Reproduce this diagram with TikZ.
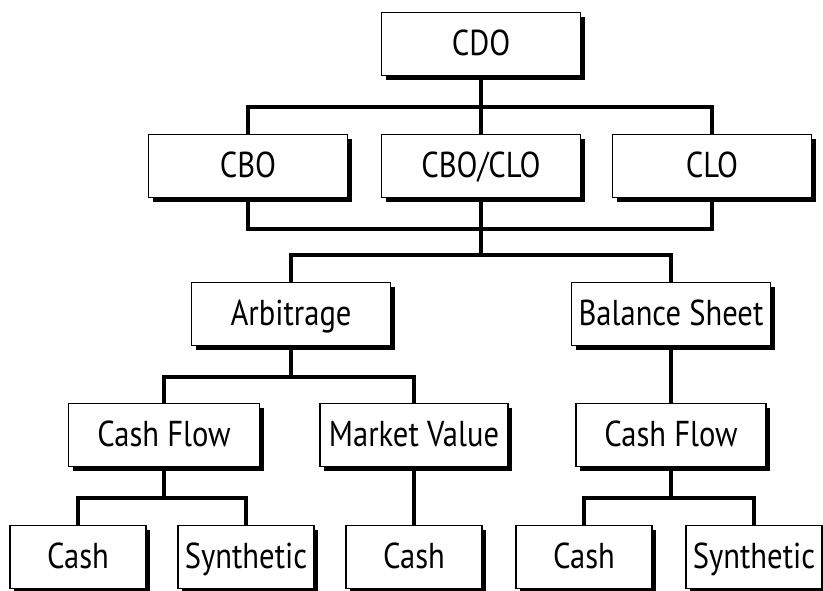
\documentclass[tikz,border=0pt]{standalone}
\usepackage{fontspec}
\setmainfont{PT Sans}[FakeStretch=0.85]
\usepackage{tikz}
\usetikzlibrary{shadows}
\tikzset{box/.style = {draw, line width=1.2pt, fill=white, minimum width=199, minimum height=63, inner sep=0pt,
    text height=26pt, text depth=4pt,
    font=\fontsize{36}{40}\selectfont, drop shadow={shadow xshift=4pt, shadow yshift=-4pt, fill=black, opacity=1}}}
\tikzset{leaf/.style = {box, minimum width=136}}
\tikzset{edge/.style = {line width=3.2pt}}

\begin{document}
\begin{tikzpicture}[x=1pt, y=-1pt]
    \useasboundingbox (0,0) rectangle (823,590);

      % Nodes
      \node[box] (CDO) at (481,44) {CDO};
      \node[box] (CBO) at (248,166) {CBO};
      \node[box] (CBOCLO) at (481,166) {CBO/CLO};
      \node[box] (CLO) at (712,166) {CLO};
      \node[box] (Arb) at (291,314) {Arbitrage};
      \node[box] (BS) at (671,314) {Balance Sheet};
      \node[box, minimum width=191] (CF1) at (164,435) {Cash Flow};
      \node[box, minimum width=188] (MV) at (414,435) {Market Value};
      \node[box, minimum width=190] (CF2) at (671,435) {Cash Flow};
      \node[leaf] (Cash1) at (78,557) {Cash};
      \node[leaf] (Syn1) at (246,557) {Synthetic};
      \node[leaf] (Cash2) at (414,557) {Cash};
      \node[leaf] (Cash3) at (584,557) {Cash};
      \node[leaf] (Syn2) at (754,557) {Synthetic};

      % Junctions
      \coordinate (j1) at (481,107);
      \coordinate (j2) at (481,229);
      \coordinate (j3) at (481,255);
      \coordinate (j4) at (291,377);
      \coordinate (j5) at (164,498);
      \coordinate (j6) at (671,498);

      %Edges
      \draw[edge] (CDO.south) -- (j1);
      \draw[edge] (CBO.north) |- (j1) -| (CLO.north);
      \draw[edge] (j1) -- (CBOCLO.north);
      \draw[edge] (CBO.south) |- (j2) -| (CLO.south);
      \draw[edge] (CBOCLO.south) -- (j3);
      \draw[edge] (Arb.north) |- (j3) -| (BS.north);
      \draw[edge] (Arb.south) -- (j4);
      \draw[edge] (CF1.north) |- (j4) -| (MV.north);
      \draw[edge] (BS.south) -- (CF2.north);
      \draw[edge] (CF1.south) -- (j5);
      \draw[edge] (Cash1.north) |- (j5) -| (Syn1.north);
      \draw[edge] (MV.south) -- (Cash2.north);
      \draw[edge] (CF2.south) -- (j6);
      \draw[edge] (Cash3.north) |- (j6) -| (Syn2.north);

  \end{tikzpicture}
\end{document}
